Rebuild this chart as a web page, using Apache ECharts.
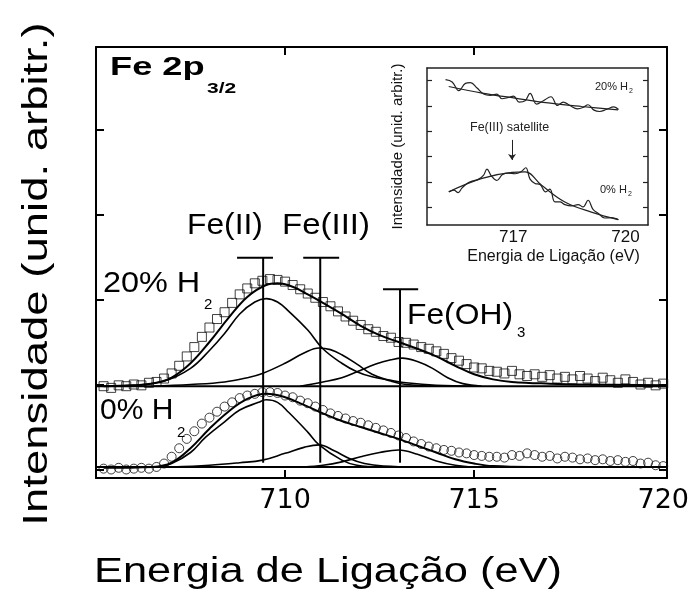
<!DOCTYPE html>
<html><head><meta charset="utf-8">
<script src="https://cdn.jsdelivr.net/npm/echarts@6/dist/echarts.min.js"></script>
<style>html,body{margin:0;padding:0;background:#fff}#c{width:699px;height:599px}</style>
</head><body><div id="c"></div>
<script>
// ---------- main panel: binding energy (eV) vs intensity (arb. units) ----------
const xTickLabels = [710, 715, 720];
const xTickMarks = [710, 715];
const yTickMarks = [0, 1, 2, 3, 4];

// 20% H2 spectrum (squares)
const energy20 = [705.2,705.4,705.6,705.8,706.0,706.2,706.4,706.6,706.8,707.0,707.2,707.4,707.6,707.8,708.0,708.2,708.4,708.6,708.8,709.0,709.2,709.4,709.6,709.8,710.0,710.2,710.4,710.6,710.8,711.0,711.2,711.4,711.6,711.8,712.0,712.2,712.4,712.6,712.8,713.0,713.2,713.4,713.6,713.8,714.0,714.2,714.4,714.6,714.8,715.0,715.2,715.4,715.6,715.8,716.0,716.2,716.4,716.6,716.8,717.0,717.2,717.4,717.6,717.8,718.0,718.2,718.4,718.6,718.8,719.0,719.2,719.4,719.6,719.8,720.0];
const counts20 = [0.98,0.96,0.99,0.98,1.00,0.99,1.02,1.03,1.07,1.13,1.22,1.33,1.44,1.56,1.67,1.77,1.85,1.96,2.06,2.13,2.19,2.22,2.24,2.23,2.21,2.17,2.12,2.07,2.02,1.97,1.92,1.86,1.80,1.75,1.70,1.65,1.62,1.57,1.55,1.50,1.49,1.47,1.44,1.42,1.39,1.36,1.31,1.28,1.24,1.20,1.19,1.16,1.15,1.13,1.16,1.12,1.10,1.12,1.09,1.11,1.07,1.09,1.06,1.10,1.07,1.04,1.08,1.05,1.02,1.06,1.03,1.00,1.02,0.99,1.01];

// 0% H2 spectrum (circles)
const energy0 = energy20;
const counts0 = [0.01,0.00,0.02,0.00,0.01,0.02,0.01,0.03,0.07,0.15,0.25,0.36,0.45,0.54,0.61,0.68,0.74,0.79,0.84,0.87,0.89,0.91,0.91,0.90,0.87,0.85,0.81,0.78,0.74,0.70,0.66,0.63,0.60,0.57,0.55,0.52,0.49,0.46,0.43,0.40,0.37,0.33,0.30,0.27,0.25,0.23,0.22,0.20,0.19,0.17,0.16,0.15,0.15,0.14,0.17,0.16,0.19,0.17,0.15,0.16,0.13,0.15,0.14,0.12,0.13,0.11,0.12,0.10,0.11,0.09,0.10,0.07,0.08,0.05,0.04];

// fitted curves, 20% H2
const envelope20 = [[705.2,0.98],[706.0,0.99],[706.6,1.02],[707.0,1.08],[707.5,1.25],[708.0,1.50],[708.5,1.78],[709.0,2.03],[709.5,2.17],[709.8,2.19],[710.2,2.15],[710.6,2.06],[711.0,1.96],[711.5,1.83],[712.0,1.69],[712.5,1.58],[713.0,1.50],[713.5,1.42],[714.0,1.33],[714.5,1.22],[715.0,1.12],[715.5,1.06],[716.0,1.03],[717.0,1.01],[718.0,1.00],[720.0,0.99]];
const feII20 = [[705.2,0.98],[706.0,0.99],[706.8,1.04],[707.5,1.19],[708.0,1.40],[708.4,1.60],[708.8,1.83],[709.2,1.97],[709.5,2.01],[709.8,1.97],[710.1,1.86],[710.6,1.64],[711.0,1.42],[711.5,1.25],[711.9,1.15],[712.3,1.09],[712.8,1.05],[713.2,1.02],[714.0,0.99],[715.0,0.98]];
const feIII20 = [[706.5,0.98],[707.5,1.00],[708.4,1.03],[709.0,1.08],[709.4,1.13],[710.0,1.25],[710.5,1.37],[710.9,1.43],[711.2,1.41],[711.5,1.35],[711.9,1.24],[712.3,1.12],[712.8,1.04],[713.2,1.00],[714.0,0.98]];
const feOH20 = [[710.4,0.98],[711.0,1.03],[711.5,1.08],[711.9,1.15],[712.4,1.24],[712.8,1.29],[713.1,1.31],[713.5,1.27],[713.9,1.19],[714.3,1.08],[714.7,1.01],[715.2,0.98]];
const baseline20 = [[705.0,0.98],[720.1,0.98]];

// fitted curves, 0% H2
const envelope0 = [[705.2,0.02],[706.5,0.03],[707.0,0.08],[707.5,0.25],[708.0,0.48],[708.5,0.68],[709.0,0.83],[709.5,0.89],[710.0,0.85],[710.5,0.76],[711.0,0.66],[711.5,0.57],[712.0,0.50],[712.5,0.43],[713.0,0.36],[713.5,0.28],[714.0,0.20],[714.5,0.12],[715.0,0.07],[715.5,0.04],[716.5,0.03],[720.0,0.03]];
const feII0 = [[705.2,0.03],[706.6,0.03],[707.0,0.07],[707.5,0.20],[707.9,0.38],[708.4,0.56],[708.8,0.70],[709.3,0.79],[709.5,0.82],[709.8,0.79],[710.1,0.67],[710.6,0.44],[710.9,0.29],[711.5,0.11],[711.9,0.05],[712.5,0.03],[714.0,0.03]];
const feIII0 = [[707.0,0.03],[708.0,0.05],[708.8,0.08],[709.4,0.11],[710.0,0.19],[710.5,0.26],[710.9,0.29],[711.3,0.22],[711.7,0.13],[712.1,0.07],[712.6,0.04],[713.5,0.03]];
const feOH0 = [[710.5,0.03],[711.0,0.05],[711.5,0.09],[712.0,0.15],[712.5,0.20],[713.0,0.23],[713.5,0.18],[714.0,0.10],[714.5,0.05],[715.0,0.03]];
const baseline0 = [[705.0,0.03],[720.1,0.03]];

// peak position markers: [position, bottom, top, cap left, cap right]
const markerFeII = [709.42, 0.08, 2.49, 708.73, 709.68];
const markerFeIII = [710.93, 0.08, 2.49, 710.48, 711.43];
const markerFeOH = [713.04, 0.08, 2.12, 712.59, 713.52];
const arrowMain = [717.3, -0.16, 2.3];

// ---------- inset: Fe(III) satellite region ----------
const insetXLabels = [717, 720];
const insetYTicks = [0, 1, 2, 3, 4, 5];
const inset20Raw = [[715.195,5.04],[715.372,4.947],[715.549,4.603],[715.726,4.894],[715.859,4.921],[716.036,4.709],[716.212,4.471],[716.389,4.418],[716.566,4.471],[716.699,4.286],[716.876,4.339],[717.009,4.392],[717.159,4.154],[717.319,4.206],[717.451,4.497],[717.628,4.074],[717.805,4.206],[718.009,4.365],[718.186,4.021],[718.336,4.154],[718.513,4.021],[718.717,3.889],[718.867,3.942],[719.0,4.048],[719.159,3.836],[719.31,3.783],[719.487,3.862],[719.69,3.968],[719.814,3.862]];
const inset20Fit = [[715.28,4.77],[716.17,4.51],[717.05,4.31],[717.94,4.12],[718.83,3.98],[719.8,3.85]];
const inset0Raw = [[715.283,0.608],[715.416,0.675],[715.531,0.582],[715.637,0.767],[715.77,0.939],[715.903,1.032],[716.08,1.111],[716.212,1.27],[716.301,1.508],[716.416,1.243],[716.566,1.058],[716.717,1.296],[716.876,1.349],[717.053,1.323],[717.212,1.402],[717.336,1.561],[717.451,1.111],[717.584,0.939],[717.717,0.9],[717.867,0.608],[717.982,0.714],[718.115,0.212],[718.248,0.212],[718.38,0.106],[718.557,0.053],[718.734,0.106],[718.867,0.013],[719.0,0.278],[719.132,-0.079],[719.283,-0.251],[719.442,-0.423],[719.619,-0.41],[719.752,-0.45],[719.814,-0.489]];
const inset0Fit = [[715.28,0.61],[716.17,1.14],[716.97,1.38],[717.32,1.40],[717.76,0.87],[718.38,0.21],[719.09,-0.19],[719.8,-0.49]];
const insetArrow = [716.97, 2.66, 1.87];

const F = '"Liberation Sans", Arial, sans-serif';
const chart = echarts.init(document.getElementById('c'), null, {renderer: 'canvas'});

function curve(data, width, axis) {
  return {type: 'line', data: data, xAxisIndex: axis, yAxisIndex: axis, showSymbol: false, symbol: 'none',
    smooth: 0.4, silent: true, clip: false, lineStyle: {color: axis ? '#222' : '#000', width: width}, z: 3};
}
function straight(data, width) {
  return {type: 'line', data: data, xAxisIndex: 0, yAxisIndex: 0, showSymbol: false, symbol: 'none',
    smooth: false, silent: true, lineStyle: {color: '#000', width: width}, z: 4};
}
function markerLines(m) {
  return [straight([[m[0], m[1]], [m[0], m[2]]], 2), straight([[m[3], m[2]], [m[4], m[2]]], 2)];
}
function zip(xs, ys) { return xs.map((x, i) => [x, ys[i]]); }

function mainAxisX(pos, labels) {
  return {type: 'value', gridIndex: 0, position: pos, min: 705, max: 720.1,
    axisLine: {show: true, onZero: false, lineStyle: {color: '#000', width: 2}},
    axisTick: {show: true, inside: true, length: 8, customValues: xTickMarks, lineStyle: {color: '#000', width: 2}},
    axisLabel: labels ? {show: true, customValues: xTickLabels, color: '#000', fontSize: 27, fontFamily: '"DejaVu Sans"', margin: 9} : {show: false},
    splitLine: {show: false}};
}
function mainAxisY(pos) {
  return {type: 'value', gridIndex: 0, position: pos, min: -0.1, max: 4.97,
    axisLine: {show: true, onZero: false, lineStyle: {color: '#000', width: 2}},
    axisTick: {show: true, inside: true, length: 8, customValues: yTickMarks, lineStyle: {color: '#000', width: 2}},
    axisLabel: {show: false}, splitLine: {show: false}};
}
function insetAxisX(pos, labels) {
  return {type: 'value', gridIndex: 1, position: pos, min: 714.7, max: 720.6,
    axisLine: {show: true, onZero: false, lineStyle: {color: '#222', width: 1.5}},
    axisTick: {show: false},
    axisLabel: labels ? {show: true, customValues: insetXLabels, color: '#111', fontSize: 17, fontFamily: F, margin: 4} : {show: false},
    name: labels ? 'Energia de Ligação (eV)' : '', nameLocation: 'middle', nameGap: 24,
    nameTextStyle: {color: '#111', fontSize: 16, fontFamily: F, padding: [0, 0, 0, 32]},
    splitLine: {show: false}};
}
function insetAxisY(pos, named) {
  return {type: 'value', gridIndex: 1, position: pos, min: -0.7, max: 5.5,
    axisLine: {show: true, onZero: false, lineStyle: {color: '#222', width: 1.5}},
    axisTick: {show: true, inside: true, length: 5, customValues: insetYTicks, lineStyle: {color: '#222', width: 1.2}},
    axisLabel: {show: false},
    name: named ? 'Intensidade (unid. arbitr.)' : '', nameLocation: 'middle', nameGap: 22, nameRotate: 90,
    nameTextStyle: {color: '#111', fontSize: 15, fontFamily: F},
    splitLine: {show: false}};
}

function txt(text, x, y, size, opts) {
  opts = opts || {};
  return {type: 'text', x: x, y: y, scaleX: opts.sx || 1, rotation: opts.rot || 0, z: 20, silent: true,
    style: {text: text, fill: opts.color || '#000', align: opts.align || 'left', verticalAlign: 'middle',
      font: (opts.bold ? 'bold ' : '') + size + 'px ' + F}};
}

const series = [
  {type: 'scatter', data: zip(energy20, counts20), xAxisIndex: 0, yAxisIndex: 0, symbol: 'rect', symbolSize: 9,
    silent: true, itemStyle: {color: 'rgba(255,255,255,0)', borderColor: '#111', borderWidth: 1}, z: 2},
  {type: 'scatter', data: zip(energy0, counts0), xAxisIndex: 0, yAxisIndex: 0, symbol: 'circle', symbolSize: 9,
    silent: true, itemStyle: {color: 'rgba(255,255,255,0)', borderColor: '#111', borderWidth: 1}, z: 2},
  curve(envelope20, 2, 0), curve(feII20, 1.6, 0), curve(feIII20, 1.6, 0), curve(feOH20, 1.6, 0),
  straight(baseline20, 2),
  curve(envelope0, 2, 0), curve(feII0, 1.6, 0), curve(feIII0, 1.6, 0), curve(feOH0, 1.6, 0),
  straight(baseline0, 2),
  ...markerLines(markerFeII), ...markerLines(markerFeIII), ...markerLines(markerFeOH),
  {type: 'line', data: [], xAxisIndex: 0, yAxisIndex: 0, clip: false, silent: true,
    markLine: {silent: true, symbol: ['none', 'arrow'], symbolSize: 17, animation: false,
      lineStyle: {color: '#000', width: 3, type: 'solid'}, label: {show: false},
      data: [[{coord: [arrowMain[0], arrowMain[1]]}, {coord: [arrowMain[0], arrowMain[2]]}]]}},
  curve(inset20Raw, 1.2, 2), curve(inset20Fit, 1.2, 2), curve(inset0Raw, 1.2, 2), curve(inset0Fit, 1.2, 2),
  {type: 'line', data: [], xAxisIndex: 2, yAxisIndex: 2, clip: false, silent: true,
    markLine: {silent: true, symbol: ['none', 'arrow'], symbolSize: 6, animation: false,
      lineStyle: {color: '#222', width: 1, type: 'solid'}, label: {show: false},
      data: [[{coord: [insetArrow[0], insetArrow[1]]}, {coord: [insetArrow[0], insetArrow[2]]}]]}}
];

chart.setOption({
  animation: false,
  backgroundColor: '#fff',
  grid: [
    {left: 96, top: 47, width: 571, height: 431, show: false},
    {left: 427, top: 68, width: 221, height: 157, show: false}
  ],
  xAxis: [mainAxisX('bottom', true), mainAxisX('top', false), insetAxisX('bottom', true), insetAxisX('top', false)],
  yAxis: [mainAxisY('left'), mainAxisY('right'), insetAxisY('left', true), insetAxisY('right', false)],
  series: series,
  graphic: [
    txt('Intensidade (unid. arbitr.)', 37, 274, 35, {rot: Math.PI / 2, align: 'center', sx: 1.3}),
    txt('Energia de Ligação (eV)', 328, 572, 35, {align: 'center', sx: 1.24}),
    txt('Fe 2p', 110, 68, 25, {bold: true, sx: 1.45}),
    txt('3/2', 207, 89, 15, {bold: true, sx: 1.4}),
    txt('Fe(II)', 187, 226, 30, {sx: 1.06}),
    txt('Fe(III)', 282, 226, 30, {sx: 1.1}),
    txt('20% H', 103, 284, 30, {sx: 1.08}),
    txt('2', 204, 305, 15),
    txt('0% H', 100, 411, 30, {sx: 1.0}),
    txt('2', 177, 433, 15),
    txt('Fe(OH)', 407, 316, 30, {sx: 1.06}),
    txt('3', 517, 333, 15),
    txt('20% H', 595, 87, 11, {color: '#222'}),
    txt('2', 629, 91, 7, {color: '#222'}),
    txt('0% H', 600, 190, 11, {color: '#222'}),
    txt('2', 628, 194, 7, {color: '#222'}),
    txt('Fe(III) satellite', 470, 128, 12.5, {color: '#222'})
  ]
});
</script>
</body></html>
